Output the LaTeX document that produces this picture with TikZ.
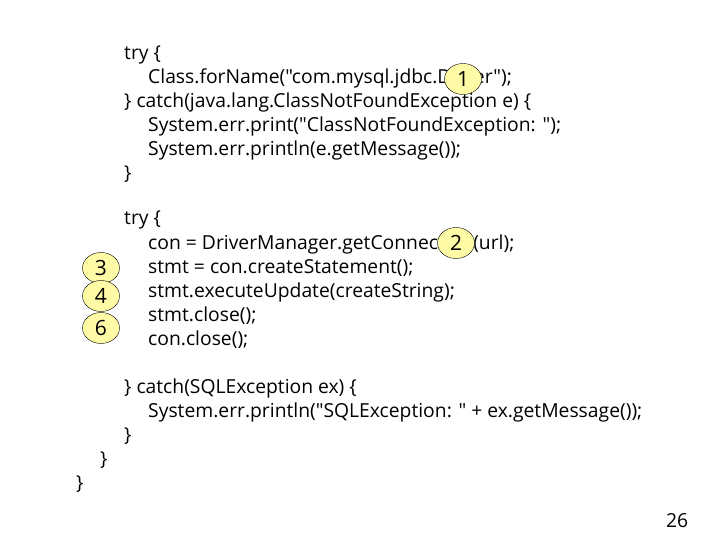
\documentclass[tikz,border=0pt]{standalone}
\usepackage{fontspec}
\setmainfont{Open Sans}[Ligatures=TeXOff]
\usetikzlibrary{shapes.geometric}
\newcommand{\q}{\symbol{34}}
\begin{document}
\begin{tikzpicture}[x=1pt,y=-1pt,
  code/.style={anchor=base west,inner sep=0pt,font=\fontsize{19.3}{22}\selectfont},
  num/.style={ellipse,draw=black,fill=yellow!35,inner sep=0pt,minimum width=37pt,minimum height=31pt,font=\fontsize{21}{22}\selectfont}]
\useasboundingbox (0,0) rectangle (720,540);
\node[code] (l1) at (124,60) {try \{};
\node[code] (l2) at (148,84) {Class.forName(\q com.mysql.jdbc.Driver\q);};
\node[code] (l3) at (124,108) {\} catch(java.lang.ClassNotFoundException e) \{};
\node[code] (l4) at (148,132) {System.err.print(\q ClassNotFoundException: \q);};
\node[code] (l5) at (148,156) {System.err.println(e.getMessage());};
\node[code] (l6) at (124,180) {\}};
\node[code] (m1) at (124,225) {try \{};
\node[code] (m2) at (148,249) {con = DriverManager.getConnection(url);};
\node[code] (m3) at (148,273) {stmt = con.createStatement();};
\node[code] (m4) at (148,297) {stmt.executeUpdate(createString);};
\node[code] (m5) at (148,321) {stmt.close();};
\node[code] (m6) at (148,345) {con.close();};
\node[code] (n1) at (124,393) {\} catch(SQLException ex) \{};
\node[code] (n2) at (148,417) {System.err.println(\q SQLException: \q{} + ex.getMessage());};
\node[code] (n3) at (124,441) {\}};
\node[code] (n4) at (100,465) {\}};
\node[code] (n5) at (76,489) {\}};
\node[code] (pg) at (666,527) {26};
\node[num] (c1) at (463,79) {1};
\node[num] (c2) at (456,243) {2};
\node[num] (c3) at (101,268) {3};
\node[num] (c4) at (101,296) {4};
\node[num] (c6) at (101,328) {6};
\end{tikzpicture}
\end{document}
